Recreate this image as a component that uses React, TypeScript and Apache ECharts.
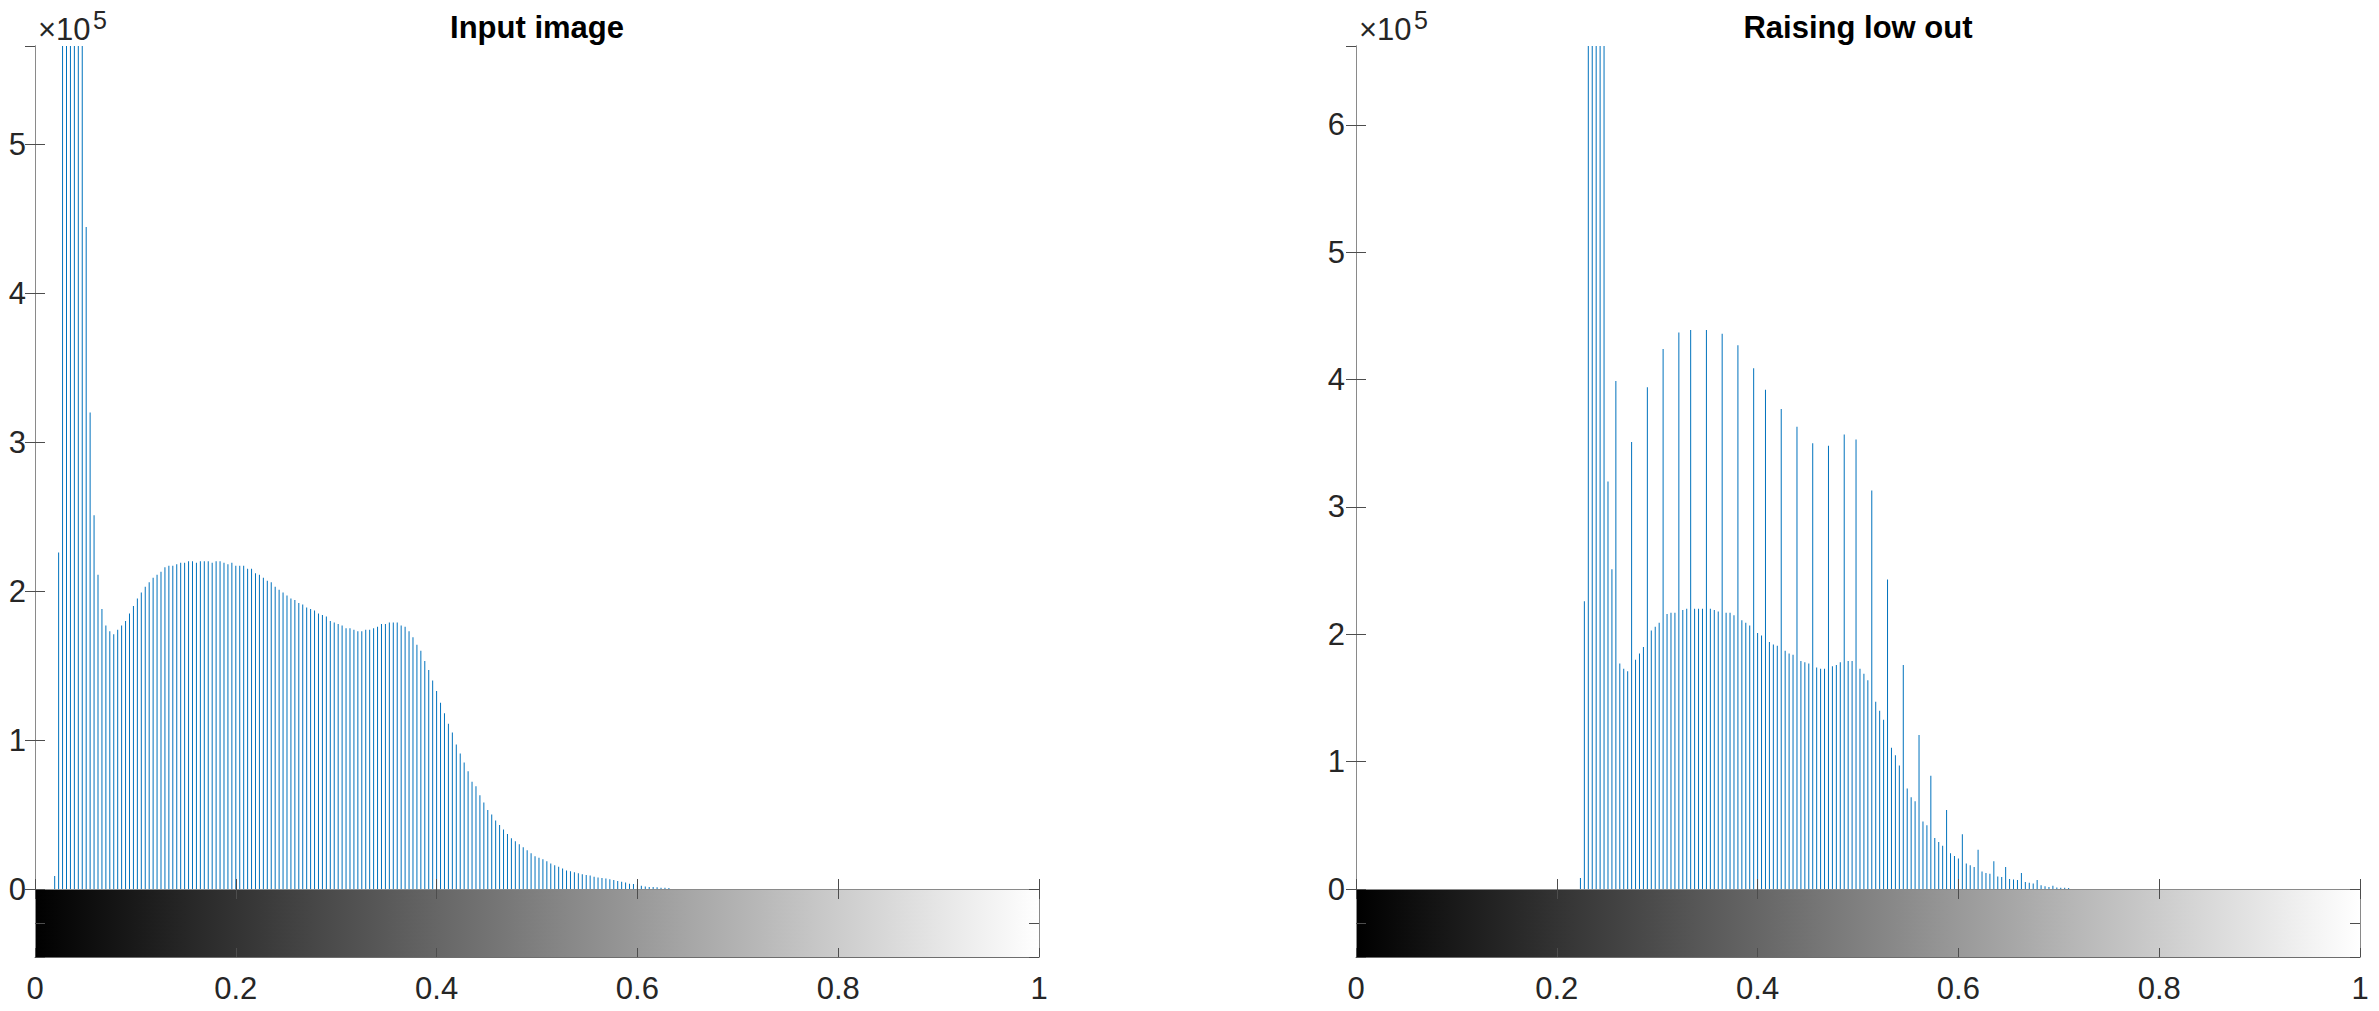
import React, { useEffect, useRef } from "react";
import * as echarts from "echarts";

// Histogram bins: 256 grey levels, bin k sits at k / 255 on the 0..1 axis
const BIN_LEVELS = 256;

// "Input image" histogram, counts of bins 5..161 (all other bins are empty)
const inputFirstBin = 5;
const inputCounts = [
  8700, 226000, 750000, 950000, 1000000, 900000, 800000, 650000, 444500, 320000,
  251000, 211000, 188000, 177000, 173000, 171000, 174000, 177000, 180000, 185000,
  190000, 195000, 199000, 203000, 206000, 209000, 211000, 213000, 216000, 217000,
  217000, 218000, 219000, 219000, 220000, 220000, 219000, 220000, 220000, 220000,
  219000, 220000, 220000, 219000, 218000, 219000, 217000, 217000, 217000, 215000,
  215000, 212000, 211000, 209000, 207000, 206000, 203000, 201000, 199000, 197000,
  195000, 194000, 192000, 191000, 189000, 188000, 187000, 185000, 184000, 183000,
  180000, 179000, 178000, 177000, 175000, 175000, 174000, 173000, 173000, 174000,
  174000, 175000, 176000, 178000, 178000, 179000, 179000, 179000, 177000, 176000,
  173000, 169000, 164000, 160000, 153000, 147000, 140000, 133000, 125000, 118000,
  111000, 105000, 97000, 91000, 85000, 79000, 72000, 69000, 63000, 58000,
  53000, 50000, 46000, 43000, 40000, 37000, 34000, 32000, 30000, 28000,
  26000, 24000, 22000, 21000, 20000, 18600, 17200, 15900, 15000, 13700,
  12500, 11900, 11200, 10500, 9900, 9400, 9000, 8300, 7800, 7400,
  7000, 6500, 6100, 5400, 4900, 4300, 3600, 3400, 3000, 2200,
  1600, 1300, 1300, 1100, 900, 900, 700,
];

// "Raising low out" histogram, counts of bins 57..181 (all other bins are empty)
const lowOutFirstBin = 57;
const lowOutCounts = [
  8700, 226000, 1700000, 1000000, 900000, 800000, 1094500, 320000, 251000, 399000,
  177000, 173000, 171000, 351000, 180000, 185000, 190000, 394000, 203000, 206000,
  209000, 424000, 216000, 217000, 217000, 437000, 219000, 220000, 439000, 220000,
  220000, 220000, 439000, 220000, 219000, 218000, 436000, 217000, 217000, 215000,
  427000, 211000, 209000, 207000, 409000, 201000, 199000, 392000, 194000, 192000,
  191000, 377000, 187000, 185000, 184000, 363000, 179000, 178000, 177000, 350000,
  174000, 173000, 173000, 348000, 175000, 176000, 178000, 357000, 179000, 179000,
  353000, 173000, 169000, 164000, 313000, 147000, 140000, 133000, 243000, 111000,
  105000, 97000, 176000, 79000, 72000, 69000, 121000, 53000, 50000, 89000,
  40000, 37000, 34000, 62000, 28000, 26000, 24000, 43000, 20000, 18600,
  17200, 30900, 13700, 12500, 11900, 21700, 9900, 9400, 17300, 7800,
  7400, 7000, 12600, 5400, 4900, 4300, 7000, 3000, 2200, 1600,
  2600, 1100, 900, 900, 700,
];

const panelTitles = ["Input image", "Raising low out"];
const panelYMax = [566000, 662000];
const xTickStep = 0.2;
const yTickStep = 100000;
const yExponent = 5;

const FONT = '"Liberation Sans", Arial, Helvetica, sans-serif';
const STEM_COLOR = "#0072BD";
const TEXT_COLOR = "#262626";
const BOX_COLOR = "#8a8a8a";
const TICK_COLOR = "#4d4d4d";
const TICK_FONT = 31;

function toStems(firstBin: number, counts: number[]) {
  return counts.map((c, k) => [(firstBin + k) / (BIN_LEVELS - 1), c]);
}

const panelLayouts = [
  { left: 35, width: 1004, yLabelMargin: 9 },
  { left: 1356, width: 1004, yLabelMargin: 11 },
];
const HIST_TOP = 46;
const HIST_HEIGHT = 843;
const BAR_HEIGHT = 68;

function buildOption() {
  const grids: any[] = [];
  const xAxes: any[] = [];
  const yAxes: any[] = [];
  const series: any[] = [];
  const graphics: any[] = [];
  const stemSets = [
    toStems(inputFirstBin, inputCounts),
    toStems(lowOutFirstBin, lowOutCounts),
  ];

  panelLayouts.forEach((lay, p) => {
    const gHist = grids.length;
    grids.push({ left: lay.left, top: HIST_TOP, width: lay.width, height: HIST_HEIGHT, containLabel: false });
    const gBar = grids.length;
    grids.push({ left: lay.left, top: HIST_TOP + HIST_HEIGHT, width: lay.width, height: BAR_HEIGHT, containLabel: false });

    const baseX = {
      type: "value",
      min: 0,
      max: 1,
      interval: xTickStep,
      splitLine: { show: false },
      z: 5,
    };
    const xHistBottom = xAxes.length;
    xAxes.push({
      ...baseX,
      gridIndex: gHist,
      position: "bottom",
      axisLine: { show: true, lineStyle: { color: TEXT_COLOR, width: 1 } },
      axisTick: { show: true, inside: true, length: 10, lineStyle: { color: TICK_COLOR } },
      axisLabel: { show: false },
    });
    xAxes.push({
      ...baseX,
      gridIndex: gHist,
      position: "top",
      axisLine: { show: true, lineStyle: { color: BOX_COLOR, width: 1 } },
      axisTick: { show: true, inside: true, length: 10, lineStyle: { color: TICK_COLOR } },
      axisLabel: { show: false },
    });
    const xBar = xAxes.length;
    xAxes.push({
      ...baseX,
      gridIndex: gBar,
      position: "bottom",
      axisLine: { show: true, lineStyle: { color: "#6e6e6e", width: 1 } },
      axisTick: { show: true, inside: true, length: 9, lineStyle: { color: TICK_COLOR } },
      axisLabel: {
        show: true,
        fontSize: TICK_FONT,
        fontFamily: FONT,
        color: TEXT_COLOR,
        margin: 16,
        formatter: (v: number) => String(Math.round(v * 10) / 10),
      },
    });

    const baseY = {
      type: "value",
      splitLine: { show: false },
      z: 5,
    };
    const yHist = yAxes.length;
    yAxes.push({
      ...baseY,
      gridIndex: gHist,
      position: "left",
      min: 0,
      max: panelYMax[p],
      interval: yTickStep,
      axisLine: { show: true, lineStyle: { color: BOX_COLOR, width: 1 } },
      axisTick: { show: true, inside: true, length: 10, lineStyle: { color: TICK_COLOR } },
      axisLabel: {
        show: true,
        showMaxLabel: false,
        fontSize: TICK_FONT,
        fontFamily: FONT,
        color: TEXT_COLOR,
        margin: lay.yLabelMargin,
        formatter: (v: number) => {
          const q = v / Math.pow(10, yExponent);
          return Math.abs(q - Math.round(q)) < 1e-6 ? String(Math.round(q)) : "";
        },
      },
    });
    yAxes.push({
      ...baseY,
      gridIndex: gHist,
      position: "right",
      min: 0,
      max: panelYMax[p],
      interval: yTickStep,
      axisLine: { show: true, lineStyle: { color: BOX_COLOR, width: 1 } },
      axisTick: { show: true, inside: true, length: 10, lineStyle: { color: TICK_COLOR } },
      axisLabel: { show: false },
    });
    const yBar = yAxes.length;
    yAxes.push({
      ...baseY,
      gridIndex: gBar,
      position: "left",
      min: 0,
      max: 1,
      interval: 0.5,
      axisLine: { show: true, lineStyle: { color: BOX_COLOR, width: 1 } },
      axisTick: { show: true, inside: true, length: 10, lineStyle: { color: TICK_COLOR } },
      axisLabel: { show: false },
    });
    yAxes.push({
      ...baseY,
      gridIndex: gBar,
      position: "right",
      min: 0,
      max: 1,
      interval: 0.5,
      axisLine: { show: true, lineStyle: { color: BOX_COLOR, width: 1 } },
      axisTick: { show: true, inside: true, length: 10, lineStyle: { color: TICK_COLOR } },
      axisLabel: { show: false },
    });

    series.push({
      type: "bar",
      name: panelTitles[p],
      xAxisIndex: xHistBottom,
      yAxisIndex: yHist,
      data: stemSets[p],
      barWidth: 1,
      clip: true,
      itemStyle: { color: STEM_COLOR },
      silent: true,
    });

    series.push({
      type: "custom",
      xAxisIndex: xBar,
      yAxisIndex: yBar,
      data: [[0, 0]],
      clip: true,
      silent: true,
      renderItem: (params: any, api: any) => {
        const p0 = api.coord([0, 1]);
        const p1 = api.coord([1, 0]);
        return {
          type: "rect",
          shape: { x: p0[0], y: p0[1], width: p1[0] - p0[0], height: p1[1] - p0[1] },
          style: {
            fill: new echarts.graphic.LinearGradient(0, 0, 1, 0, [
              { offset: 0, color: "#000000" },
              { offset: 1, color: "#ffffff" },
            ]),
          },
        };
      },
    });

    const cx = lay.left + lay.width / 2;
    graphics.push({
      type: "text",
      x: cx,
      y: 27,
      style: {
        text: panelTitles[p],
        font: `bold 31px ${FONT}`,
        fill: "#000000",
        align: "center",
        verticalAlign: "middle",
        textAlign: "center",
        textVerticalAlign: "middle",
      },
    });
    graphics.push({
      type: "text",
      x: lay.left + 3,
      y: 29,
      style: {
        text: "×10",
        font: `31px ${FONT}`,
        fill: TEXT_COLOR,
        align: "left",
        verticalAlign: "middle",
        textAlign: "left",
        textVerticalAlign: "middle",
      },
    });
    graphics.push({
      type: "text",
      x: lay.left + 58,
      y: 20,
      style: {
        text: String(yExponent),
        font: `25px ${FONT}`,
        fill: TEXT_COLOR,
        align: "left",
        verticalAlign: "middle",
        textAlign: "left",
        textVerticalAlign: "middle",
      },
    });
  });

  return {
    animation: false,
    backgroundColor: "#ffffff",
    grid: grids,
    xAxis: xAxes,
    yAxis: yAxes,
    series,
    graphic: graphics,
  };
}

export default function App() {
  const ref = useRef<HTMLDivElement>(null);
  useEffect(() => {
    if (!ref.current) return;
    const chart = echarts.init(ref.current, undefined, { renderer: "svg" });
    chart.setOption(buildOption() as any);
    return () => chart.dispose();
  }, []);
  return (
    <div
      ref={ref}
      style={{ position: "absolute", left: 0, top: 0, width: 2379, height: 1011, background: "#fff" }}
    />
  );
}
